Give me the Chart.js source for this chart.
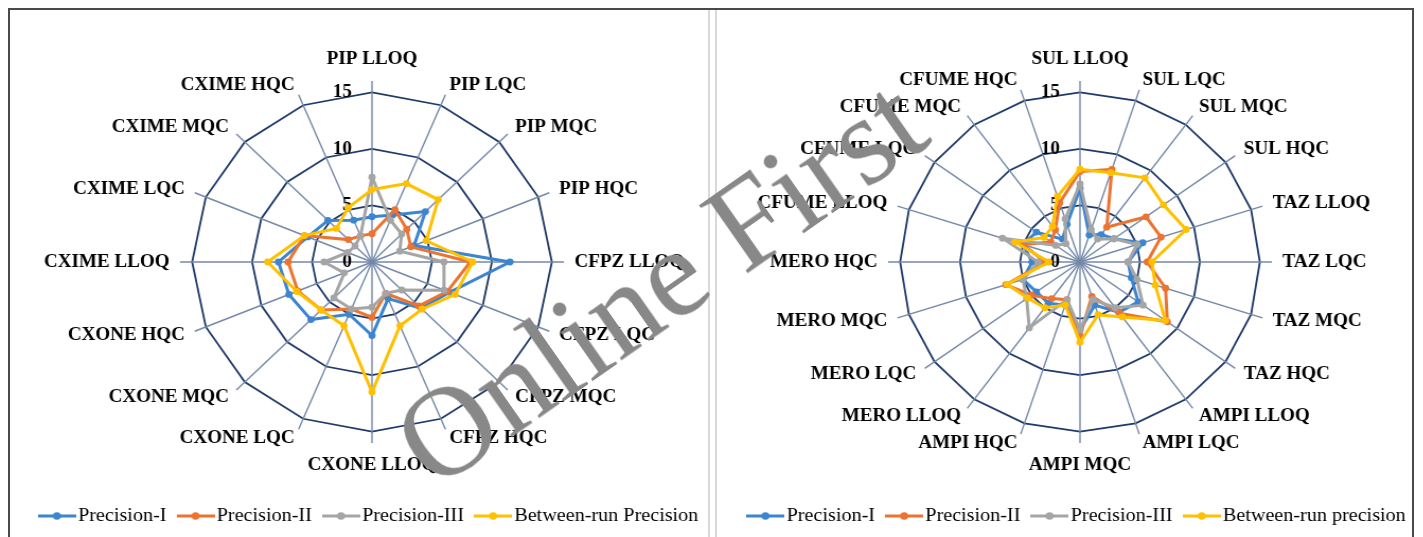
<!DOCTYPE html>
<html>
<head>
<meta charset="utf-8">
<script src="https://cdn.jsdelivr.net/npm/chart.js@4.4.1/dist/chart.umd.min.js"></script>
<style>
  html, body { margin: 0; padding: 0; background: #fff; }
  #page { position: relative; width: 1423px; height: 537px; overflow: hidden; background: #fff; }
  .frame { position: absolute; left: 8px; top: 8px; width: 1406px; height: 560px; border: 2px solid #4a4a4a; box-sizing: border-box; }
  .sep { position: absolute; top: 10px; bottom: 0; width: 2px; background: #d9d9d9; }
  canvas { position: absolute; top: 10px; transform-origin: 350px 0; transform: scaleX(1.06); }
  #stamp { position: absolute; left: 660px; top: 282px; transform: translate(-50%, -50%) rotate(-35deg);
           font: 127px "Liberation Serif", "Times New Roman", serif; color: #888888; white-space: nowrap;
           line-height: 1; pointer-events: none; }
</style>
</head>
<body>
<div id="page">
  <div class="frame"></div>
  <div class="sep" style="left:708px"></div>
  <div class="sep" style="left:715px"></div>
  <canvas id="leftRadar" width="700" height="527" style="left:22px"></canvas>
  <canvas id="rightRadar" width="700" height="527" style="left:730px"></canvas>
  <div id="stamp">Online First</div>
</div>
<script>
// Ring values shown on the radial axis
const ringValues = [0, 5, 10, 15];

// Left panel: piperacillin, cefoperazone, ceftriaxone, cefuroxime-axetil levels
const leftCategories = ['PIP LLOQ', 'PIP LQC', 'PIP MQC', 'PIP HQC',
  'CFPZ LLOQ', 'CFPZ LQC', 'CFPZ MQC', 'CFPZ HQC',
  'CXONE LLOQ', 'CXONE LQC', 'CXONE MQC', 'CXONE HQC',
  'CXIME LLOQ', 'CXIME LQC', 'CXIME MQC', 'CXIME HQC'];
const leftPrecisionI   = [4.0, 4.5, 6.3, 3.8, 11.5, 7.0, 5.8, 3.5, 6.5, 5.0, 7.2, 7.5, 7.8, 5.8, 5.2, 4.0];
const leftPrecisionII  = [2.5, 5.0, 4.1, 3.5, 8.2, 6.8, 5.5, 3.0, 4.9, 4.5, 6.0, 6.7, 7.0, 6.1, 2.8, 2.5];
const leftPrecisionIII = [7.5, 4.0, 3.5, 2.5, 6.0, 6.5, 3.5, 3.0, 4.0, 4.5, 4.5, 2.5, 4.0, 2.2, 2.0, 2.5];
const leftBetweenRun   = [6.4, 7.5, 7.8, 4.9, 8.4, 7.5, 5.9, 6.1, 11.5, 6.1, 6.0, 6.8, 8.7, 6.1, 4.2, 5.2];

// Right panel: sulbactam, tazobactam, ampicillin, meropenem, cefuroxime levels
const rightCategories = ['SUL LLOQ', 'SUL LQC', 'SUL MQC', 'SUL HQC',
  'TAZ LLOQ', 'TAZ LQC', 'TAZ MQC', 'TAZ HQC',
  'AMPI LLOQ', 'AMPI LQC', 'AMPI MQC', 'AMPI HQC',
  'MERO LLOQ', 'MERO LQC', 'MERO MQC', 'MERO HQC',
  'CFUME LLOQ', 'CFUME LQC', 'CFUME MQC', 'CFUME HQC'];
const rightPrecisionI   = [6.5, 2.5, 3.0, 3.5, 5.5, 4.0, 4.5, 6.0, 5.5, 4.0, 6.0, 4.0, 4.5, 4.5, 5.0, 4.0, 5.0, 4.5, 2.5, 3.5];
const rightPrecisionII  = [8.0, 8.6, 3.8, 6.8, 7.1, 5.6, 7.5, 9.0, 5.6, 3.2, 6.5, 3.5, 4.0, 5.0, 6.5, 2.9, 5.0, 3.0, 3.5, 5.5];
const rightPrecisionIII = [6.9, 3.0, 2.5, 3.5, 5.0, 4.0, 5.0, 6.5, 5.0, 3.5, 6.0, 3.5, 7.2, 5.5, 5.0, 3.5, 6.8, 2.5, 2.0, 4.0];
const rightBetweenRun   = [8.2, 8.3, 9.2, 8.6, 9.3, 6.0, 6.6, 8.8, 6.0, 4.9, 7.1, 4.0, 5.0, 5.4, 6.4, 2.6, 5.7, 3.7, 3.9, 6.1];

const leftSeriesNames  = ['Precision-I', 'Precision-II', 'Precision-III', 'Between-run Precision'];
const rightSeriesNames = ['Precision-I', 'Precision-II', 'Precision-III', 'Between-run precision'];
const seriesColors = ['#3C85D0', '#EC7430', '#A5A5A5', '#FFC000'];

Chart.defaults.font.family = '"Liberation Serif", "Times New Roman", serif';
Chart.defaults.color = '#000';

// Legend key: short line with a dot in the middle
function markerIcon(color) {
  const c = document.createElement('canvas');
  c.width = 36; c.height = 10;
  const g = c.getContext('2d');
  g.strokeStyle = color; g.lineWidth = 2.8;
  g.beginPath(); g.moveTo(0, 5); g.lineTo(36, 5); g.stroke();
  g.fillStyle = color;
  g.beginPath(); g.arc(18, 5, 3.8, 0, Math.PI * 2); g.fill();
  return c;
}
const legendIcons = seriesColors.map(markerIcon);

// Ring numbers to the left of the top spoke, category names beyond the spoke ends
const axisText = {
  id: 'axisText',
  beforeDatasetsDraw(chart) {
    const s = chart.scales.r, ctx = chart.ctx;
    ctx.save();
    ctx.font = 'bold 18px "Liberation Serif"';
    ctx.fillStyle = '#000';
    ctx.textAlign = 'right';
    ctx.textBaseline = 'middle';
    s.ticks.forEach(t => {
      ctx.fillText(t.label, s.xCenter - 19, s.yCenter - s.getDistanceFromCenterForValue(t.value));
    });
    ctx.restore();
  },
  afterDatasetsDraw(chart) {
    const s = chart.scales.r, ctx = chart.ctx, labels = chart.data.labels, n = labels.length;
    ctx.save();
    ctx.font = 'bold 18px "Liberation Serif"';
    ctx.fillStyle = '#000';
    ctx.textBaseline = 'middle';
    labels.forEach((text, i) => {
      const deg = i * 360 / n;
      const vertical = deg === 0 || deg === 180;
      const p = s.getPointPosition(i, s.drawingArea + (vertical ? 22 : 10));
      ctx.textAlign = vertical ? 'center' : (deg < 180 ? 'left' : 'right');
      ctx.fillText(text, p.x, p.y);
    });
    ctx.restore();
  }
};

function makeRadar(id, categories, names, series) {
  return new Chart(document.getElementById(id), {
    type: 'radar',
    data: {
      labels: categories,
      datasets: names.map((name, k) => ({
        label: name,
        data: series[k],
        borderColor: seriesColors[k],
        backgroundColor: seriesColors[k],
        pointBackgroundColor: seriesColors[k],
        pointBorderColor: seriesColors[k],
        borderWidth: 3,
        pointRadius: 3.4,
        pointBorderWidth: 0,
        fill: false,
        order: names.length - k
      }))
    },
    options: {
      responsive: false,
      animation: false,
      devicePixelRatio: 1,
      events: [],
      layout: { padding: { top: 71, bottom: 1.5, left: 0, right: 0 } },
      scales: {
        r: {
          min: 0,
          max: 16,
          afterBuildTicks: sc => { sc.ticks = ringValues.map(v => ({ value: v })); },
          ticks: { display: false },
          grid: { color: '#1F3A68', lineWidth: 1.8 },
          angleLines: { color: '#7488A8', lineWidth: 1.4 },
          pointLabels: { display: false }
        }
      },
      plugins: {
        tooltip: { enabled: false },
        legend: {
          position: 'bottom',
          title: { display: true, text: ' ', padding: { top: 34.5, bottom: 0 }, font: { size: 10 } },
          labels: {
            usePointStyle: true,
            pointStyleWidth: 21,
            padding: 17,
            color: '#000',
            font: { size: 19 },
            sort: (a, b) => a.datasetIndex - b.datasetIndex,
            generateLabels: chart => Chart.defaults.plugins.legend.labels.generateLabels(chart)
              .map(item => Object.assign(item, { pointStyle: legendIcons[item.datasetIndex] }))
          }
        }
      }
    },
    plugins: [axisText]
  });
}

makeRadar('leftRadar', leftCategories, leftSeriesNames,
  [leftPrecisionI, leftPrecisionII, leftPrecisionIII, leftBetweenRun]);
makeRadar('rightRadar', rightCategories, rightSeriesNames,
  [rightPrecisionI, rightPrecisionII, rightPrecisionIII, rightBetweenRun]);
</script>
</body>
</html>
